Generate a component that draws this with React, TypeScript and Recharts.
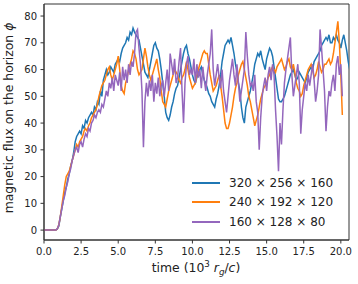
import React from 'react';
import { LineChart, Line, XAxis, YAxis, Legend, Label, ReferenceArea } from 'recharts';

// sampling step (10^3 r_g/c) shared by the three runs
const STEP = 0.1;

// 320 x 256 x 160
const flux320 = [
  0, 0, 0, 0, 0, 0, 0, 0, 0, 0.5,
  1.5, 5, 8, 11, 14, 16, 19, 21, 24, 26,
  29, 33, 35, 36, 37, 36, 39, 38, 41, 40,
  42, 43, 44, 43, 46, 45, 48, 47, 52, 50,
  56, 58, 60, 58, 59, 61, 60, 59, 62, 63,
  64, 63, 66, 68, 69, 70, 72, 71, 74, 73,
  75.5, 74, 73, 72, 71, 68, 65, 62, 59, 58,
  57, 60, 63, 66, 69, 70, 68, 67, 64, 60,
  55, 50, 44, 42, 41, 43, 46, 48, 51, 53,
  54, 57, 60, 63, 66, 68, 69, 66, 64, 61,
  58, 56, 55, 57, 59, 60, 61, 58, 56, 55,
  53, 51, 50, 48, 47, 46, 49, 51, 54, 58,
  63, 66, 69, 70, 71, 70, 72, 69, 66, 62,
  59, 55, 52, 46, 42, 40, 46, 48, 50, 52,
  55, 58, 62, 64, 66, 65, 67, 64, 62, 60,
  64, 66, 68, 67, 65, 61, 57, 53, 49, 48,
  48, 49, 50, 52, 54, 56, 58, 59, 60, 58,
  56, 57, 59, 58, 57, 56, 55, 57, 59, 60,
  61, 60, 63, 64, 65, 66, 67, 69, 70, 71,
  72, 71, 73, 70, 70, 72, 71, 73, 71, 70,
  68, 71, 73, 70, 67, 63, 60,
];

// 240 x 192 x 120
const flux240 = [
  0, 0, 0, 0, 0, 0, 0, 0, 0, 0.5,
  2, 5, 9, 13, 17, 20, 21, 22, 24, 26,
  28, 30, 32, 31, 33, 34, 35, 37, 38, 37,
  39, 40, 42, 43, 44, 45, 47, 50, 52, 54,
  55, 56, 58, 60, 61, 58, 56, 58, 60, 62,
  65, 60, 54, 52, 51, 55, 57, 60, 62, 64,
  67, 66, 64, 60, 58, 59, 60, 64, 68, 65,
  61, 58, 56, 58, 60, 62, 64, 60, 57, 52,
  48, 47, 46, 49, 52, 54, 56, 58, 60, 59,
  58, 56, 55, 57, 58, 60, 63, 60, 57, 55,
  53, 54, 55, 58, 60, 62, 64, 66, 67, 66,
  66, 62, 58, 55, 52, 53, 54, 56, 58, 54,
  50, 45, 40, 38, 38, 40, 43, 46, 50, 53,
  55, 58, 60, 62, 63, 60, 57, 54, 50, 48,
  45, 42, 39, 41, 43, 46, 49, 51, 53, 54,
  55, 57, 58, 60, 61, 60, 59, 61, 62, 63,
  64, 62, 60, 61, 63, 64, 61, 60, 62, 59,
  55, 53, 52, 50, 51, 54, 56, 58, 60, 61,
  62, 60, 57, 58, 60, 63, 61, 59, 60, 62,
  62, 63, 64, 62, 63, 66, 70, 74, 78, 70,
  58, 43,
];

// 160 x 128 x 80
const flux160 = [
  0, 0, 0, 0, 0, 0, 0, 0, 0, 0.5,
  2, 5, 8, 11, 13, 16, 18, 21, 23, 26,
  28, 30, 31, 29, 32, 33, 31, 34, 36, 35,
  38, 37, 40, 41, 43, 42, 44, 45, 44, 47,
  46, 49, 52, 50, 55, 53, 57, 52, 58, 56,
  54, 59, 52, 61, 56, 60, 55, 62, 58, 63,
  61, 66, 74, 75, 68, 62, 52, 31, 48, 55,
  50, 56, 52, 58, 48, 55, 51, 57, 50, 54,
  56, 50, 55, 60, 52, 66, 62, 58, 64, 55,
  57, 63, 68, 52, 40, 55, 62, 65, 58, 60,
  58, 64, 55, 62, 57, 60, 53, 61, 56, 52,
  58, 62, 66, 75, 60, 54, 58, 62, 57, 53,
  60, 52, 48, 44, 50, 56, 60, 64, 58, 54,
  62, 55, 48, 52, 56, 60, 74, 65, 58, 54,
  55, 52, 58, 48, 44, 30, 42, 50, 54, 57,
  52, 58, 61, 56, 62, 58, 45, 35, 22, 40,
  32, 45, 55, 60, 64, 68, 72, 58, 50, 54,
  58, 62, 55, 36, 45, 50, 55, 52, 58, 54,
  58, 62, 56, 48, 52, 58, 75, 68, 60, 52,
  37, 46, 52, 50, 55, 58, 52, 62, 65, 58,
  62, 50,
];

const runNames = ['320 × 256 × 160', '240 × 192 × 120', '160 × 128 × 80'];
const runColors = ['#1f77b4', '#ff7f0e', '#9467bd'];

const xTicks = [0, 2.5, 5, 7.5, 10, 12.5, 15, 17.5, 20];
const yTicks = [0, 10, 20, 30, 40, 50, 60, 70, 80];
const X_MAX = 20.55;
const Y_MIN = -3.7;
const Y_MAX = 84.5;

const toSeries = (values: number[]) =>
  values.map((v, i) => ({ t: +(i * STEP).toFixed(2), v }));

const series = [toSeries(flux320), toSeries(flux240), toSeries(flux160)];

const FONT = 'DejaVu Sans, sans-serif';
const AXIS = '#333';
const TEXT = '#222';

const XTitle = () => (
  <text x={196} y={272} textAnchor="middle" fontSize={12.4} fill={TEXT} fontFamily={FONT}>
    time (10<tspan dy={-5} fontSize={8.7}>3</tspan>
    <tspan dy={5}> </tspan>
    <tspan fontStyle="italic">r</tspan>
    <tspan fontStyle="italic" fontSize={8.7} dy={3}>g</tspan>
    <tspan dy={-3}>/</tspan>
    <tspan fontStyle="italic">c</tspan>)
  </text>
);

const YTitle = () => (
  <text
    x={13}
    y={118}
    transform="rotate(-90 13 118)"
    textAnchor="middle"
    fontSize={12.4}
    fill={TEXT}
    fontFamily={FONT}
  >
    magnetic flux on the horizon <tspan fontStyle="italic">ϕ</tspan>
  </text>
);

const LegendBox = () => (
  <div style={{ fontFamily: FONT, fontSize: 12, color: TEXT }}>
    {runNames.map((name, i) => (
      <div key={name} style={{ display: 'flex', alignItems: 'center', height: 19.5 }}>
        <div style={{ width: 28, height: 2, background: runColors[i], marginRight: 9 }} />
        <span>{name}</span>
      </div>
    ))}
  </div>
);

export default function App() {
  return (
    <div style={{ position: 'absolute', left: 0, top: 0, background: '#fff' }}>
      <LineChart width={358} height={284} margin={{ top: 4, right: 9, bottom: 0, left: 0 }} style={{ fontFamily: FONT }}>
        <XAxis
          dataKey="t"
          type="number"
          domain={[0, X_MAX]}
          ticks={xTicks}
          allowDataOverflow
          height={44}
          tickFormatter={(v: number) => v.toFixed(1)}
          tick={{ fontSize: 10, fill: TEXT }}
          tickSize={3.5}
          tickMargin={4.5}
          stroke={AXIS}
        >
          <Label content={XTitle} />
        </XAxis>
        <YAxis
          type="number"
          domain={[Y_MIN, Y_MAX]}
          ticks={yTicks}
          allowDataOverflow
          width={44}
          tick={{ fontSize: 10, fill: TEXT }}
          tickSize={3.5}
          tickMargin={3.5}
          stroke={AXIS}
        >
          <Label content={YTitle} />
        </YAxis>
        {series.map((data, i) => (
          <Line
            key={runNames[i]}
            data={data}
            dataKey="v"
            name={runNames[i]}
            type="linear"
            stroke={runColors[i]}
            strokeWidth={1.5}
            dot={false}
            isAnimationActive={false}
          />
        ))}
        <ReferenceArea
          x1={0}
          x2={X_MAX}
          y1={Y_MIN}
          y2={Y_MAX}
          fill="none"
          stroke={AXIS}
          strokeWidth={1}
          ifOverflow="visible"
        />
        <Legend
          layout="vertical"
          align="center"
          verticalAlign="middle"
          content={LegendBox}
          wrapperStyle={{ position: 'absolute', left: 192, top: 173, width: 150 }}
        />
      </LineChart>
    </div>
  );
}
